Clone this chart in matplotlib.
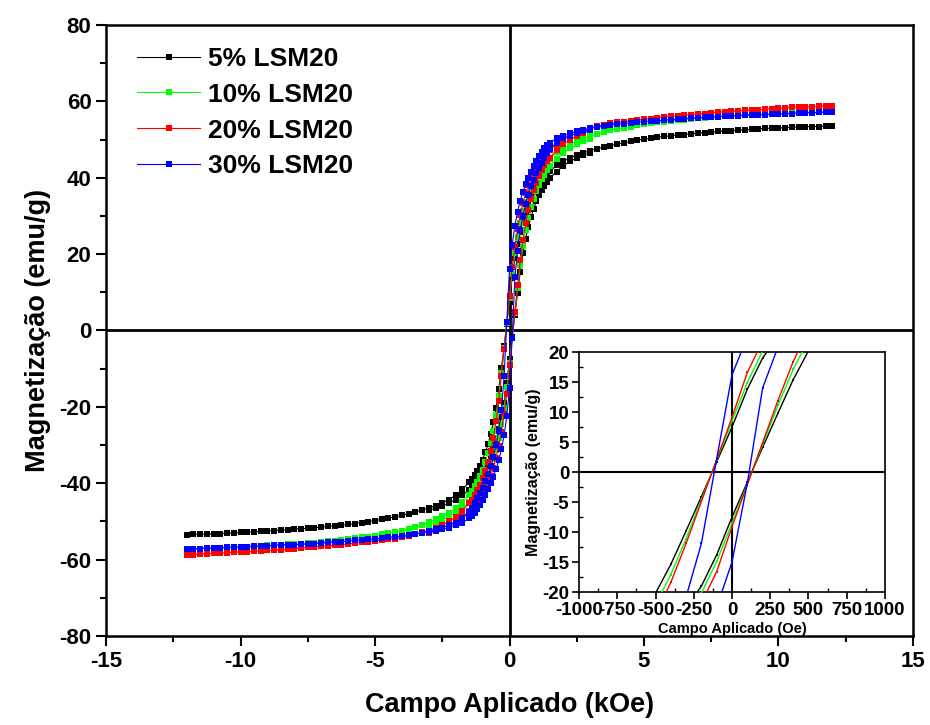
import matplotlib
matplotlib.use("Agg")
import matplotlib.pyplot as plt
from matplotlib.ticker import MultipleLocator

plt.rcParams['font.family'] = ['Liberation Sans', 'DejaVu Sans']
plt.rcParams['font.weight'] = 'bold'
plt.rcParams['axes.unicode_minus'] = False

# campo aplicado (kOe) - ramo descendente (+12 -> -12)
H_DOWN = [12.0, 11.75, 11.5, 11.25, 11.0, 10.75, 10.5, 10.25, 10.0, 9.75, 9.5, 9.25,
          9.0, 8.75, 8.5, 8.25, 8.0, 7.75, 7.5, 7.25, 7.0, 6.75, 6.5, 6.25,
          6.0, 5.75, 5.5, 5.25, 5.0, 4.75, 4.5, 4.25, 4.0, 3.75, 3.5, 3.25,
          3.0, 2.75, 2.5, 2.25, 2.0, 1.75, 1.5,
          1.4, 1.3, 1.2, 1.1, 1.0, 0.9, 0.8, 0.7, 0.6, 0.5, 0.4, 0.3, 0.2, 0.1,
          0.0,
          -0.1, -0.2, -0.3, -0.4, -0.5, -0.6, -0.7, -0.8, -0.9, -1.0, -1.1, -1.2, -1.3, -1.4,
          -1.5, -1.75, -2.0, -2.25, -2.5, -2.75, -3.0,
          -3.25, -3.5, -3.75, -4.0, -4.25, -4.5, -4.75, -5.0, -5.25, -5.5, -5.75, -6.0,
          -6.25, -6.5, -6.75, -7.0, -7.25, -7.5, -7.75, -8.0, -8.25, -8.5, -8.75, -9.0,
          -9.25, -9.5, -9.75, -10.0, -10.25, -10.5, -10.75, -11.0, -11.25, -11.5, -11.75, -12.0]

# ramo ascendente (so a parte aberta do laco)
H_UP = [-3.0, -2.75, -2.5, -2.25, -2.0, -1.75, -1.5,
        -1.4, -1.3, -1.2, -1.1, -1.0, -0.9, -0.8, -0.7, -0.6, -0.5, -0.4, -0.3, -0.2, -0.1,
        0.0,
        0.1, 0.2, 0.3, 0.4, 0.5, 0.6, 0.7, 0.8, 0.9, 1.0, 1.1, 1.2, 1.3, 1.4,
        1.5, 1.75, 2.0, 2.25, 2.5, 2.75, 3.0]

# 5% LSM20
M5_DOWN = [53.5, 53.5, 53.4, 53.4, 53.3, 53.3, 53.2, 53.1, 53.0, 53.0, 52.9, 52.8,
           52.7, 52.5, 52.4, 52.3, 52.2, 52.1, 51.9, 51.8, 51.7, 51.5, 51.3, 51.2,
           51.0, 50.8, 50.6, 50.3, 50.1, 49.9, 49.5, 49.1, 48.8, 48.4, 48.0, 47.6,
           47.1, 46.5, 45.9, 45.2, 44.3, 43.2, 41.7,
           41.0, 40.2, 39.4, 38.5, 37.4, 36.2, 34.8, 33.0, 31.1, 28.8, 25.9, 22.6, 19.0, 13.8,
           7.5,
           1.7, -4.1, -9.8, -15.4, -20.2, -24.0, -27.1, -29.8, -31.9, -33.8, -35.4, -36.8, -37.9, -38.9,
           -39.8, -41.6, -43.1, -44.3, -45.2, -45.9, -46.5,
           -47.0, -47.5, -48.0, -48.4, -48.8, -49.1, -49.5, -49.8, -50.1, -50.3, -50.6, -50.8,
           -51.0, -51.2, -51.3, -51.5, -51.7, -51.8, -51.9, -52.0, -52.2, -52.3, -52.4, -52.5,
           -52.6, -52.7, -52.8, -52.9, -53.0, -53.1, -53.2, -53.2, -53.3, -53.4, -53.4, -53.5]
M5_UP = [-47.1, -46.5, -45.9, -45.2, -44.3, -43.2, -41.7,
         -41.0, -40.2, -39.4, -38.5, -37.4, -36.2, -34.8, -33.0, -31.1, -28.8, -25.9, -22.6, -19.0, -13.8,
         -7.5,
         -1.7, 4.1, 9.8, 15.4, 20.2, 24.0, 27.1, 29.8, 31.9, 33.8, 35.4, 36.8, 37.9, 38.9,
         39.8, 41.6, 43.1, 44.3, 45.2, 45.9, 46.5]

# 10% LSM20
M10_DOWN = [57.2, 57.2, 57.1, 57.1, 57.0, 57.0, 56.9, 56.8, 56.7, 56.7, 56.6, 56.5,
            56.5, 56.4, 56.3, 56.2, 56.1, 55.9, 55.8, 55.7, 55.6, 55.4, 55.2, 55.1,
            54.9, 54.7, 54.5, 54.2, 54.0, 53.7, 53.4, 53.1, 52.8, 52.4, 52.0, 51.4,
            50.9, 50.3, 49.6, 48.7, 47.7, 46.6, 45.0,
            44.2, 43.4, 42.6, 41.5, 40.4, 39.0, 37.5, 35.7, 33.7, 31.2, 28.2, 24.6, 20.2, 14.9,
            8.5,
            2.0, -4.6, -11.1, -17.1, -22.1, -26.2, -29.5, -32.2, -34.5, -36.5, -38.1, -39.6, -40.8, -42.0,
            -43.0, -44.9, -46.5, -47.7, -48.7, -49.5, -50.2,
            -50.9, -51.4, -51.9, -52.4, -52.8, -53.1, -53.4, -53.7, -54.0, -54.2, -54.4, -54.7,
            -54.9, -55.1, -55.2, -55.4, -55.6, -55.7, -55.8, -55.9, -56.0, -56.1, -56.2, -56.3,
            -56.4, -56.5, -56.6, -56.7, -56.7, -56.8, -56.9, -57.0, -57.0, -57.1, -57.1, -57.2]
M10_UP = [-50.9, -50.3, -49.6, -48.7, -47.7, -46.6, -45.0,
          -44.2, -43.4, -42.6, -41.5, -40.4, -39.0, -37.5, -35.7, -33.7, -31.2, -28.2, -24.6, -20.2, -14.9,
          -8.5,
          -2.0, 4.6, 11.1, 17.1, 22.1, 26.2, 29.5, 32.2, 34.5, 36.5, 38.1, 39.6, 40.8, 42.0,
          43.0, 44.9, 46.5, 47.7, 48.7, 49.5, 50.2]

# 20% LSM20
M20_DOWN = [58.8, 58.8, 58.7, 58.6, 58.5, 58.5, 58.4, 58.3, 58.2, 58.1, 57.9, 57.8,
            57.8, 57.6, 57.5, 57.4, 57.3, 57.1, 57.0, 56.8, 56.7, 56.5, 56.4, 56.2,
            56.1, 55.9, 55.7, 55.5, 55.3, 55.1, 54.9, 54.7, 54.5, 54.2, 53.9, 53.5,
            53.0, 52.4, 51.7, 50.9, 50.0, 48.9, 47.3,
            46.5, 45.7, 44.9, 43.8, 42.7, 41.3, 39.8, 38.0, 36.0, 33.3, 30.3, 26.6, 21.8, 16.6,
            9.1,
            2.1, -4.9, -11.9, -18.4, -23.8, -28.1, -31.6, -34.4, -36.8, -38.7, -40.4, -41.9, -43.2, -44.3,
            -45.2, -47.2, -48.8, -50.0, -50.9, -51.7, -52.4,
            -52.9, -53.4, -53.9, -54.2, -54.5, -54.7, -54.9, -55.1, -55.3, -55.5, -55.7, -55.9,
            -56.1, -56.2, -56.4, -56.5, -56.7, -56.8, -57.0, -57.1, -57.3, -57.4, -57.5, -57.6,
            -57.7, -57.8, -57.9, -58.0, -58.1, -58.2, -58.3, -58.4, -58.5, -58.6, -58.7, -58.8]
M20_UP = [-53.0, -52.4, -51.7, -50.9, -50.0, -48.9, -47.3,
          -46.5, -45.7, -44.9, -43.8, -42.7, -41.3, -39.8, -38.0, -36.0, -33.3, -30.3, -26.6, -21.8, -16.6,
          -9.1,
          -2.1, 4.9, 11.9, 18.4, 23.8, 28.1, 31.6, 34.4, 36.8, 38.7, 40.4, 41.9, 43.2, 44.3,
          45.2, 47.2, 48.8, 50.0, 50.9, 51.7, 52.4]

# 30% LSM20
M30_DOWN = [57.2, 57.2, 57.1, 57.0, 57.0, 56.9, 56.8, 56.8, 56.7, 56.6, 56.5, 56.5,
            56.4, 56.3, 56.2, 56.2, 56.1, 56.0, 55.9, 55.8, 55.7, 55.6, 55.5, 55.3,
            55.2, 55.1, 54.9, 54.8, 54.7, 54.5, 54.3, 54.1, 54.0, 53.8, 53.5, 53.2,
            52.9, 52.6, 52.1, 51.6, 51.0, 50.3, 49.2,
            48.5, 47.7, 46.8, 45.6, 44.3, 43.0, 41.6, 40.0, 38.3, 36.3, 34.0, 31.1, 27.4, 22.5,
            16.2,
            2.2, -11.9, -20.8, -26.2, -30.1, -33.2, -35.6, -37.7, -39.5, -41.2, -42.6, -43.9, -45.1, -46.4,
            -47.5, -49.2, -50.4, -51.0, -51.6, -52.1, -52.6,
            -53.0, -53.3, -53.5, -53.8, -54.0, -54.2, -54.4, -54.6, -54.7, -54.9, -55.0, -55.2,
            -55.3, -55.4, -55.5, -55.7, -55.8, -55.9, -56.0, -56.1, -56.1, -56.2, -56.3, -56.4,
            -56.5, -56.5, -56.6, -56.7, -56.8, -56.8, -56.9, -57.0, -57.0, -57.1, -57.2, -57.2]
M30_UP = [-52.9, -52.6, -52.1, -51.6, -51.0, -50.3, -49.2,
          -48.5, -47.7, -46.8, -45.6, -44.3, -43.0, -41.6, -40.0, -38.3, -36.3, -34.0, -31.1, -27.4, -22.5,
          -15.0,
          -1.9, 14.0, 20.8, 26.2, 30.1, 33.2, 35.6, 37.7, 39.5, 41.2, 42.6, 43.9, 45.1, 46.4,
          47.5, 49.2, 50.4, 51.0, 51.6, 52.1, 52.6]

LABELS = ['5% LSM20', '10% LSM20', '20% LSM20', '30% LSM20']
COLORS = ['#000000', '#00ff00', '#ff0000', '#0000ff']
SERIES = [(M5_DOWN, M5_UP), (M10_DOWN, M10_UP), (M20_DOWN, M20_UP), (M30_DOWN, M30_UP)]

fig = plt.figure(figsize=(9.3, 7.25), dpi=100)
ax = fig.add_axes([0.114, 0.1228, 0.8677, 0.8428])

ax.axhline(0, color='black', lw=2, zorder=1)
ax.axvline(0, color='black', lw=2, zorder=1)

handles = []
for (m_down, m_up), c, lab in zip(SERIES, COLORS, LABELS):
    l, = ax.plot(H_DOWN, m_down, color=c, lw=0.8, marker='s', ms=4.2, mew=0, label=lab, zorder=3)
    ax.plot(H_UP, m_up, color=c, lw=0.8, marker='s', ms=4.2, mew=0, zorder=3)
    handles.append(l)

ax.set_xlim(-15, 15)
ax.set_ylim(-80, 80)
ax.xaxis.set_major_locator(MultipleLocator(5))
ax.xaxis.set_minor_locator(MultipleLocator(2.5))
ax.yaxis.set_major_locator(MultipleLocator(20))
ax.yaxis.set_minor_locator(MultipleLocator(10))
ax.tick_params(which='both', direction='out', width=1.5, labelsize=16, top=False, right=False)
ax.tick_params(which='major', length=7)
ax.tick_params(which='minor', length=4)
for s in ax.spines.values():
    s.set_linewidth(1.8)
ax.set_xlabel('Campo Aplicado (kOe)', fontsize=19.5, fontweight='bold', labelpad=15)
ax.set_ylabel('Magnetização (emu/g)', fontsize=19.5, fontweight='bold', labelpad=6)

ax.legend(handles=handles, loc='upper left', bbox_to_anchor=(0.009, 1.003), frameon=False,
          handlelength=2.4, handletextpad=0.3, labelspacing=0.45, numpoints=1,
          prop={'weight': 'bold', 'size': 19})

# inset
axin = fig.add_axes([0.6226, 0.1834, 0.329, 0.331])
axin.axhline(0, color='black', lw=1.5, zorder=1)
axin.axvline(0, color='black', lw=1.5, zorder=1)
for (m_down, m_up), c in zip(SERIES, COLORS):
    axin.plot([h * 1000 for h in H_DOWN], m_down, color=c, lw=1.0, marker='s', ms=2, mew=0, zorder=3)
    axin.plot([h * 1000 for h in H_UP], m_up, color=c, lw=1.0, marker='s', ms=2, mew=0, zorder=3)
axin.set_xlim(-1000, 1000)
axin.set_ylim(-20, 20)
axin.xaxis.set_major_locator(MultipleLocator(250))
axin.xaxis.set_minor_locator(MultipleLocator(125))
axin.yaxis.set_major_locator(MultipleLocator(5))
axin.yaxis.set_minor_locator(MultipleLocator(2.5))
axin.tick_params(which='major', direction='out', length=5, width=1.2, labelsize=13.5, pad=2)
axin.tick_params(which='minor', direction='in', length=3, width=1.0)
for s in axin.spines.values():
    s.set_linewidth(1.2)
axin.set_xlabel('Campo Aplicado (Oe)', fontsize=10.5, fontweight='bold', labelpad=2)
axin.set_ylabel('Magnetização (emu/g)', fontsize=11.5, fontweight='bold', labelpad=1)

fig.savefig('out.png', dpi=100)
